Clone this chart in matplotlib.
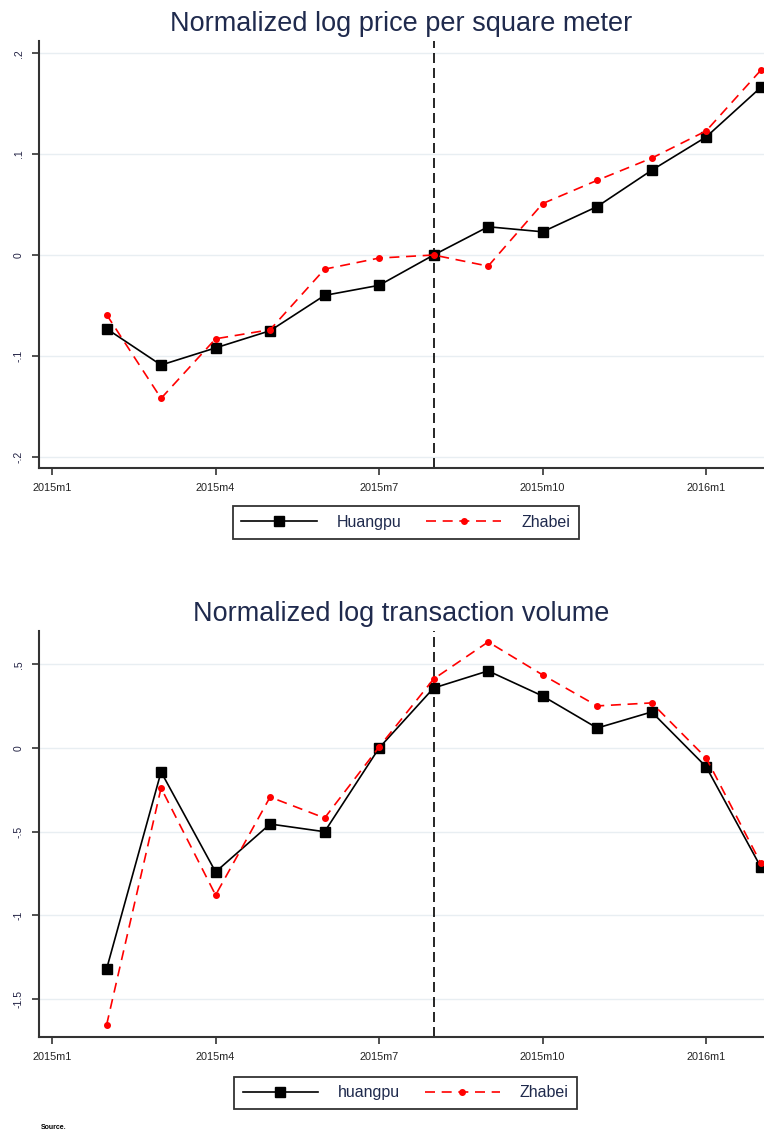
import numpy as np
import matplotlib.pyplot as plt

plt.rcParams['font.family'] = ['Liberation Sans', 'DejaVu Sans']

# months since 2015m1 (2015m2 .. 2016m2)
meses = [1, 2, 3, 4, 5, 6, 7, 8, 9, 10, 11, 12, 13]

# precio por metro cuadrado (log normalizado)
precio_huangpu = [-0.073, -0.109, -0.092, -0.075, -0.040, -0.030, 0.000,
                  0.028, 0.023, 0.048, 0.084, 0.117, 0.166]
precio_zhabei = [-0.059, -0.142, -0.083, -0.074, -0.014, -0.003, 0.000,
                 -0.011, 0.051, 0.074, 0.096, 0.123, 0.183]

# volumen de transacciones (log normalizado)
vol_huangpu = [-1.320, -0.143, -0.740, -0.454, -0.500, 0.000, 0.358,
               0.460, 0.310, 0.119, 0.215, -0.113, -0.710]
vol_zhabei = [-1.654, -0.239, -0.878, -0.293, -0.418, 0.006, 0.412,
              0.633, 0.436, 0.251, 0.269, -0.060, -0.687]

xticks = [0, 3, 6, 9, 12]
xlabels = ["2015m1", "2015m4", "2015m7", "2015m10", "2016m1"]
corte = 7  # 2015m8

yt_precio = [-0.2, -0.1, 0, 0.1, 0.2]
yl_precio = ["-.2", "-.1", "0", ".1", ".2"]
yt_vol = [-1.5, -1, -0.5, 0, 0.5]
yl_vol = ["-1.5", "-1", "-.5", "0", ".5"]

fig = plt.figure(figsize=(7.64, 11.37), dpi=100)
ax1 = fig.add_axes([0.051, 0.5884, 0.949, 0.3755])
ax2 = fig.add_axes([0.051, 0.088, 0.949, 0.357])


def dibujar(ax, yh, yz, titulo, yt, yl, ylim, nombre_h, ley_y):
    ax.plot(meses, yh, color='black', lw=1.2, marker='s', ms=6.5,
            label=nombre_h, zorder=3)
    ax.plot(meses, yz, color='red', lw=1.2, ls=(0, (6, 4)), marker='o', ms=4,
            label="Zhabei", zorder=4)
    ax.axvline(corte, color='black', lw=1.2, ls=(0, (6, 3)), zorder=2)
    ax.set_xlim(-0.24, 13.06)
    ax.set_ylim(*ylim)
    ax.set_xticks(xticks)
    ax.set_xticklabels(xlabels, fontsize=7.8, color='#222222')
    ax.set_yticks(yt)
    ax.set_yticklabels(yl, fontsize=7.5, rotation=90, va='center',
                       color='#222244')
    ax.grid(axis='y', color='#e8eef2', lw=1.0, zorder=0)
    ax.set_axisbelow(True)
    for s in ['top', 'right']:
        ax.spines[s].set_visible(False)
    for s in ['left', 'bottom']:
        ax.spines[s].set_linewidth(1.5)
        ax.spines[s].set_color('#333333')
    ax.tick_params(axis='both', direction='out', length=5, width=1.2,
                   color='#333333', pad=6)
    ax.set_title(titulo, fontsize=19.5, color='#1f2a4d', pad=7)
    leg = ax.legend(loc='center', bbox_to_anchor=(0.531, ley_y),
                    bbox_transform=fig.transFigure, ncol=2, fontsize=11.5,
                    frameon=True, fancybox=False, edgecolor='black',
                    handlelength=4.7, handletextpad=1.25, columnspacing=1.55,
                    borderpad=0.55, borderaxespad=0)
    leg.get_frame().set_linewidth(1.3)
    for t in leg.get_texts():
        t.set_color('#1f2a4d')


dibujar(ax1, precio_huangpu, precio_zhabei,
        "Normalized log price per square meter", yt_precio, yl_precio,
        (-0.211, 0.212), "Huangpu", 0.5405)
dibujar(ax2, vol_huangpu, vol_zhabei,
        "Normalized log transaction volume", yt_vol, yl_vol,
        (-1.725, 0.698), "huangpu", 0.0387)

fig.text(0.053, 0.007, "Source.", fontsize=5, fontweight='bold')

plt.savefig("out.png", dpi=100)
